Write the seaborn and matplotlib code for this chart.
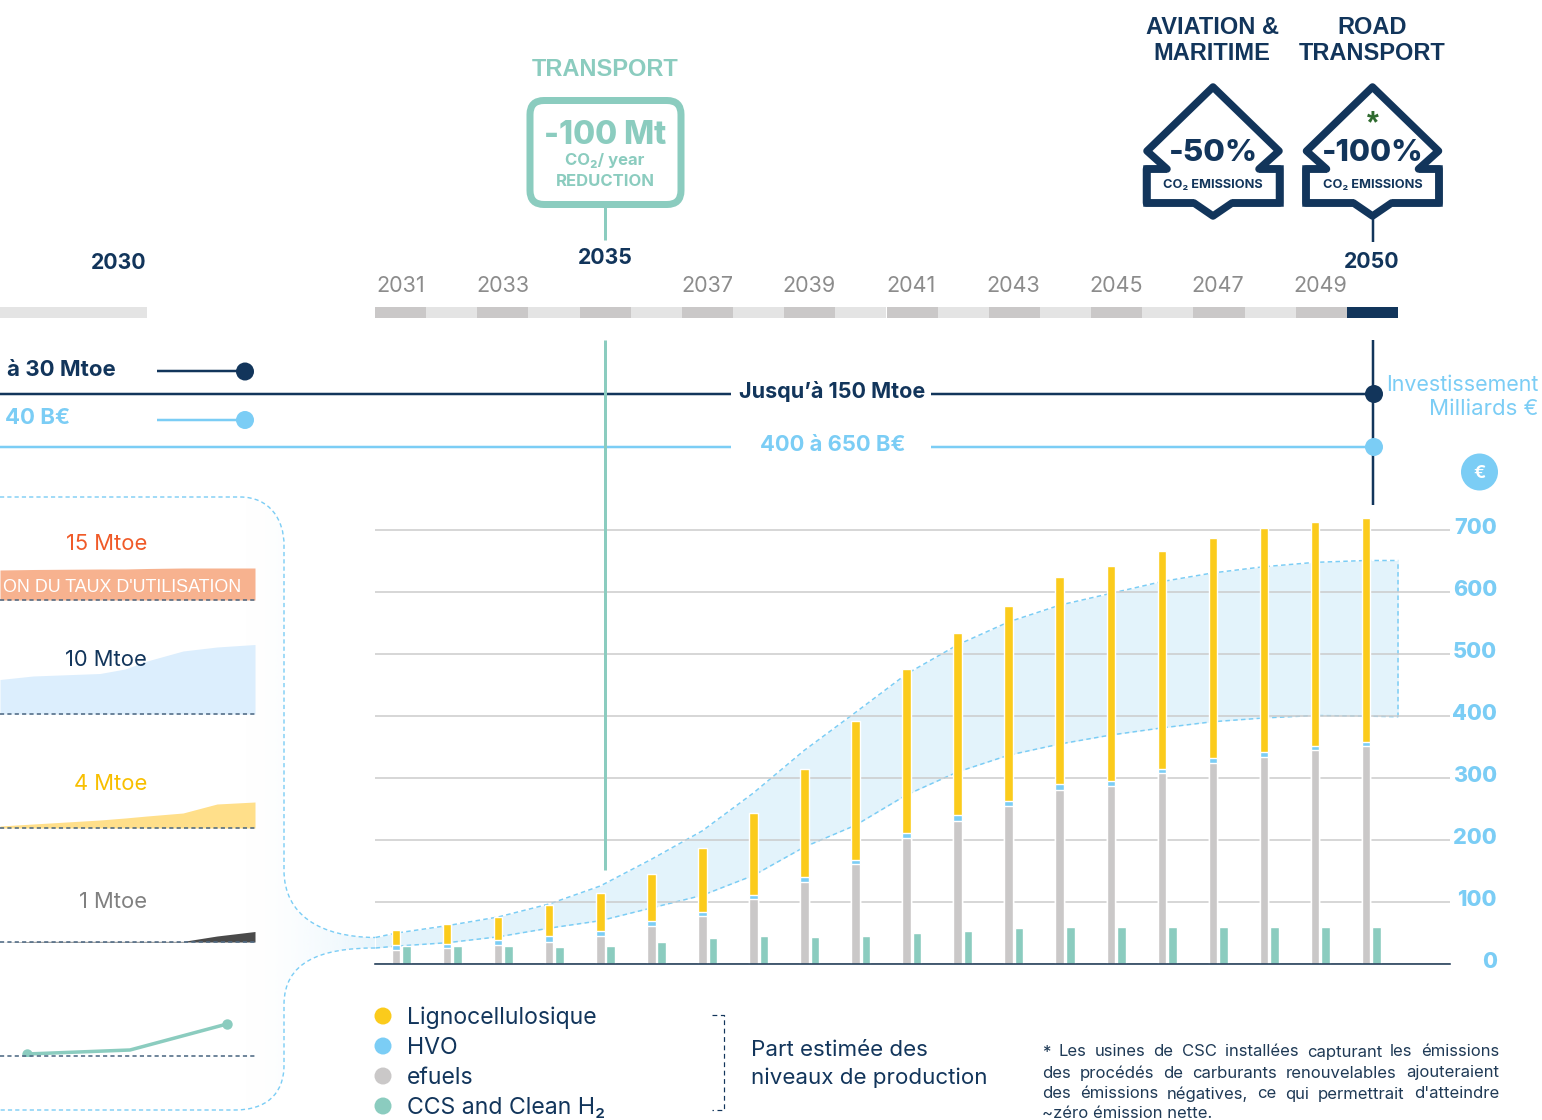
import numpy as np
import pandas as pd
import seaborn as sns
import matplotlib.pyplot as plt
from matplotlib.patches import Circle, FancyBboxPatch, PathPatch, Polygon, Rectangle
from matplotlib.path import Path
from matplotlib.transforms import ScaledTranslation

# values
years = list(range(2031, 2051))
efuels = [22, 24.5, 30, 35, 45, 60.5, 76.5, 104.5, 131, 160, 202, 230, 254, 280, 287, 307, 323, 333, 344, 351]
hvo = [8, 7.5, 8, 9, 7.5, 7.5, 6.5, 6, 8.5, 7, 8, 9.5, 8, 9.5, 7, 7, 8, 8, 7, 6]
ligno = [24, 32, 36.5, 50, 61.5, 77, 103, 132.5, 173.5, 224, 265, 293.5, 314, 333.5, 346.5, 351, 356, 361, 361, 361.5]
ccs = [28, 28, 28, 26, 28, 34, 41, 45, 42, 45, 50, 53, 57, 59, 59, 59, 59, 59, 59, 59]

# the band starts before 2031 and stops after 2050, positions in years
band_years = [2030.6, 2031, 2032, 2033, 2034, 2035, 2036, 2037, 2038, 2039, 2040, 2041, 2042, 2043, 2044,
              2045, 2046, 2047, 2048, 2049, 2050, 2050.63]
band_high = [42, 49, 61, 75, 96, 125, 168, 214, 275, 344, 405, 467, 514, 551, 578, 597, 616, 630, 640, 647, 650, 650]
band_low = [25, 28, 33.5, 43, 57, 69, 89.5, 110, 142, 188, 223, 272, 309, 336, 354, 368.5, 380, 390, 396, 400, 399, 398]

y_ticks = [0, 100, 200, 300, 400, 500, 600, 700]
timeline_labels = [2031, 2033, 2037, 2039, 2041, 2043, 2045, 2047, 2049]

# left panel, position along the panel and height of each small series
spark_x = [0, 33, 100, 125, 147, 183, 217, 255]
spark_15 = [30, 30.5, 31, 31, 31.5, 32, 32, 32]
spark_10 = [34.5, 38, 40.5, 45, 53, 63, 67, 69.5]
spark_4 = [2, 4, 8, 10, 12, 15, 24, 26]
spark_1 = [0, 0.6, 0.6, 0.6, 0.6, 0.6, 6, 10.5]
spark_ccs_x = [27, 130, 227]
spark_ccs = [2, 6, 32]

legend_names = ['Lignocellulosique', 'HVO', 'efuels', 'CCS and Clean H₂']
footnote = ['* Les usines de CSC installées capturant les émissions',
            'des procédés de carburants renouvelables ajouteraient',
            'des émissions négatives, ce qui permettrait d\'atteindre']

NAVY = '#12355B'
SKY = '#7BCDF5'
TEAL = '#8BCCBF'
YELLOW = '#FBCB1C'
GREY = '#CAC8C8'
BAND_LS = (0, (3, 2.2))

sns.set_theme(style='white')
plt.rcParams['font.family'] = ['Inter', 'DejaVu Sans']

W, H = 1542, 1120
fig = plt.figure(figsize=(W / 100, H / 100), dpi=100)
PX = 0.72


def pixel_axes(left, top, right, bottom, zorder):
    a = fig.add_axes([left / W, 1 - bottom / H, (right - left) / W, (bottom - top) / H], zorder=zorder)
    a.patch.set_alpha(0)
    return a


# background layer: funnel that links the left panel to the band
bg = pixel_axes(0, 0, W, H, 0)
M, L, C = Path.MOVETO, Path.LINETO, Path.CURVE4
top_v = [(0, 497), (240, 497), (270, 497), (284, 520), (284, 545), (284, 870), (284, 915), (320, 937), (375, 937.5)]
top_c = [M, L, C, C, C, L, C, C, C]
low_v = [(375, 948), (320, 948), (284, 962), (284, 1005), (284, 1065), (284, 1095), (265, 1110), (235, 1110), (0, 1110)]
low_c = [M, C, C, C, L, C, C, C, L]
grad = np.zeros((2, 256, 4))
grad[..., :3] = np.array([0xE8, 0xF5, 0xFC]) / 255
grad[..., 3] = np.linspace(0, 1, 256) ** 1.8
im = bg.imshow(grad, extent=(240, 375, 1120, 490), aspect='auto', zorder=1)
bg.set_xlim(0, W)
bg.set_ylim(H, 0)
bg.axis('off')
im.set_clip_path(PathPatch(Path(top_v + low_v, top_c + [L] + low_c[1:]), transform=bg.transData))
for v, c in [(top_v, top_c), (low_v, low_c)]:
    bg.add_patch(PathPatch(Path(v, c), fill=False, ec=SKY, lw=1.4 * PX, ls=BAND_LS, zorder=2))

# main chart
Y_PX = 0.62
ax = pixel_axes(375, 490, 1450, 963.5, 1)
totals = np.array(efuels) + np.array(hvo) + np.array(ligno)
labels = [str(y) for y in years]
layers = [(totals, YELLOW), (np.array(efuels) + np.array(hvo), SKY), (np.array(efuels), GREY)]
for i, (tops, colour) in enumerate(layers):
    df = pd.DataFrame({
        'year': labels * 2,
        'kind': ['stack'] * 20 + ['ccs'] * 20,
        'value': list(tops) + (ccs if i == 0 else [0] * 20),
    })
    sns.barplot(data=df, x='year', y='value', hue='kind', hue_order=['stack', 'ccs'],
                palette={'stack': colour, 'ccs': TEAL}, width=0.41, gap=0.18,
                saturation=1, legend=False, errorbar=None, ax=ax)

band_x = np.array(band_years) - 2031 - 0.103
ax.fill_between(band_x, band_low, band_high, color='#E3F3FB', lw=0, zorder=0.3)
sns.lineplot(x=band_x, y=band_high, color=SKY, lw=1.5 * PX, ls=BAND_LS, zorder=0.4, ax=ax)
sns.lineplot(x=band_x, y=band_low, color=SKY, lw=1.5 * PX, ls=BAND_LS, zorder=0.4, ax=ax)
ax.plot([band_x[-1], band_x[-1]], [band_low[-1], band_high[-1]], color=SKY, lw=1.5 * PX, ls=BAND_LS, zorder=0.4)

ax.set_xlim(-0.514, 20.54)
ax.set_ylim(0, 473.5 / Y_PX)
ax.set_xlabel('')
ax.set_ylabel('')
ax.set_xticks([])
ax.set_yticks(y_ticks)
ax.grid(axis='y', color='#CBCBCB', lw=1.5 * PX, zorder=0.5)
ax.set_axisbelow(True)
ax.yaxis.tick_right()
ax.tick_params(axis='y', length=0, pad=47 * PX, labelright=True, labelleft=False)
for s in ['top', 'left', 'right']:
    ax.spines[s].set_visible(False)
ax.spines['bottom'].set_color('#1F3A56')
ax.spines['bottom'].set_linewidth(1.6 * PX)
shift = ScaledTranslation(0, 3 / 100, fig.dpi_scale_trans)
for lab in ax.get_yticklabels():
    lab.set_ha('right')
    lab.set_color(SKY)
    lab.set_fontweight('heavy')
    lab.set_fontsize(15.5)
    lab.set_transform(lab.get_transform() + shift)

# top layer: everything around the chart, in pixels
top = pixel_axes(0, 0, W, H, 5)
top.set_xlim(0, W)
top.set_ylim(H, 0)
top.axis('off')


def txt(x, y, s, size, color, weight='normal', ha='center', family=None, **kw):
    fam = family if family else ['Inter', 'DejaVu Sans']
    return top.text(x, y, s, fontsize=size, color=color, fontweight=weight, ha=ha, va='center', family=fam, **kw)


def hline(x0, x1, y, color, w=2.5):
    top.plot([x0, x1], [y, y], color=color, lw=w * PX, solid_capstyle='butt')


def dot(x, y, r, color, z=6):
    top.add_patch(Circle((x, y), r, color=color, lw=0, zorder=z))


LIB = ['Liberation Sans', 'DejaVu Sans']

# timeline strip
for i, y in enumerate(years):
    c = NAVY if y == 2050 else (GREY if i % 2 == 0 else '#E4E4E4')
    top.add_patch(Rectangle((375 + i * 51.15, 307), 51.15, 11, color=c, lw=0))
top.add_patch(Rectangle((0, 307), 147, 11, color='#E4E4E4', lw=0))
for y in timeline_labels:
    txt(401 + (y - 2031) * 51.05, 286, str(y), 15.5, '#8C8C8C')
txt(119, 263, '2030', 15.3, NAVY, 'bold')
txt(605.5, 258, '2035', 15.3, NAVY, 'bold')
txt(1372, 262, '2050', 15.3, NAVY, 'bold')

# transport box
txt(605, 70, 'TRANSPORT', 17, TEAL, 'bold', family=LIB)
top.add_patch(FancyBboxPatch((530, 100.5), 151, 104, boxstyle='round,pad=0,rounding_size=14',
                             fc='white', ec=TEAL, lw=7 * PX))
top.plot([605, 605], [207, 240], color=TEAL, lw=3 * PX, solid_capstyle='butt')
txt(605.5, 136, '-100 Mt', 23, TEAL, 'heavy')
txt(605, 161, 'CO₂/ year', 12, TEAL, 'bold')
txt(605, 182, 'REDUCTION', 12, TEAL, 'bold')
top.plot([605, 605], [340, 870], color=TEAL, lw=3 * PX, solid_capstyle='butt', zorder=3)


def shield(cx):
    pts = [(-66.5, 169), (-46, 169), (-66, 151), (0, 87), (66, 151), (46, 169), (66.5, 169), (66.5, 203),
           (19, 203), (0, 216), (-19, 203), (-66.5, 203)]
    pts = [(cx + a, b) for a, b in pts]
    top.add_patch(Polygon(pts, closed=True, fc='white', ec=NAVY, lw=7.5 * PX, joinstyle='round'))
    for part in ([pts[1], pts[0], pts[11], pts[10]], [pts[5], pts[6], pts[7], pts[8]]):
        top.plot(*zip(*part), color=NAVY, lw=7.5 * PX, solid_joinstyle='miter', solid_capstyle='butt')
    txt(cx, 185, 'CO₂ EMISSIONS', 9.2, NAVY, 'bold')


shield(1213)
shield(1372.5)
txt(1213, 153, '-50%', 22.5, NAVY, 'heavy')
txt(1372.5, 153, '-100%', 22, NAVY, 'heavy')
txt(1372.5, 124, '*', 22, '#2F6B2F', 'bold', family=LIB)
for cx, a, b in [(1212, 'AVIATION &', 'MARITIME'), (1372.5, 'ROAD', 'TRANSPORT')]:
    txt(cx, 28, a, 17, NAVY, 'bold', family=LIB)
    txt(cx, 54, b, 17, NAVY, 'bold', family=LIB)
top.plot([1372.5, 1372.5], [219, 242], color=NAVY, lw=2.5 * PX, solid_capstyle='butt')

# investment lines
top.plot([1372.5, 1372.5], [340, 505], color=NAVY, lw=2.5 * PX, solid_capstyle='butt')
txt(7, 370, 'à 30 Mtoe', 16, NAVY, 'bold', ha='left')
hline(157, 245, 371, NAVY)
dot(245, 371.5, 9, NAVY)
hline(0, 731, 394, NAVY)
hline(931, 1374, 394, NAVY)
dot(1374, 394, 9, NAVY)
txt(832, 392, 'Jusqu’à 150 Mtoe', 15.5, NAVY, 'bold')
txt(5, 418, '40 B€', 16, SKY, 'bold', ha='left')
hline(157, 245, 420, SKY)
dot(245, 420, 9, SKY)
hline(0, 731, 447, SKY)
hline(931, 1374, 447, SKY)
dot(1374, 447, 9, SKY)
txt(832.5, 445, '400 à 650 B€', 15.8, SKY, 'bold')
txt(1538, 385, 'Investissement', 15.4, SKY, ha='right')
txt(1538, 409, 'Milliards €', 16, SKY, ha='right')
dot(1479.5, 472, 18.5, SKY)
txt(1479.5, 473, '€', 13, 'white', 'bold', zorder=7)


# left panel series, one small axes for each
def spark_axes(bottom, height):
    a = pixel_axes(0, bottom - height, 255, bottom, 4)
    a.set_xlim(0, 255)
    a.set_ylim(0, height)
    a.axis('off')
    return a


def spark_area(values, colour, bottom, height):
    a = spark_axes(bottom, height)
    a.fill_between(spark_x, 0, values, color=colour, lw=0)
    top.plot([0, 255], [bottom, bottom], color='#4F6A84', lw=1.6 * PX, ls=(0, (2.6, 2)), zorder=8)


spark_area(spark_15, '#F7B28F', 600, 40)
spark_area(spark_10, '#DCEEFD', 714, 80)
spark_area(spark_4, '#FFDF8A', 828, 40)
spark_area(spark_1, '#4A4A4A', 942, 20)
txt(147, 543.5, '15 Mtoe', 15.8, '#F05A28', ha='right')
txt(147, 660.5, '10 Mtoe', 15.8, NAVY, ha='right', zorder=9)
txt(147, 783.5, '4 Mtoe', 15.8, '#F8BF00', ha='right')
txt(147, 902.5, '1 Mtoe', 15.8, '#808080', ha='right')
txt(3, 587, 'ON DU TAUX D\'UTILISATION', 12.9, 'white', ha='left', zorder=9, family=LIB)

a = spark_axes(1056, 50)
sns.lineplot(x=spark_ccs_x, y=spark_ccs, color=TEAL, lw=3.5 * PX, marker='o', markersize=7.5,
             markeredgewidth=0, markevery=[0, 2], ax=a)
a.set_xlim(0, 255)
a.set_ylim(0, 50)
a.axis('off')
top.plot([0, 255], [1056, 1056], color='#4F6A84', lw=1.6 * PX, ls=(0, (2.6, 2)), zorder=3)

# legend
for i, (name, c) in enumerate(zip(legend_names, [YELLOW, SKY, GREY, TEAL])):
    dot(383, 1016 + i * 30, 8.5, c)
    txt(407, 1018 + i * 30, name, 16.6, NAVY, ha='left')
top.plot([712, 724, 724, 712], [1015, 1015, 1110, 1110], color=NAVY, lw=1.2 * PX, ls=(0, (4, 3)))
txt(751, 1050, 'Part estimée des', 16.1, NAVY, ha='left')
txt(751, 1078, 'niveaux de production', 16.1, NAVY, ha='left')

# footnote, justified between x=1042 and x=1499
fig.canvas.draw()
renderer = fig.canvas.get_renderer()
for i, line in enumerate(footnote):
    words = line.split(' ')
    items = [txt(1042, 1052 + i * 21, w, 12, '#1F3A56', ha='left') for w in words]
    widths = [t.get_window_extent(renderer).width for t in items]
    space = (1499 - 1042 - sum(widths)) / (len(words) - 1)
    x = 1042
    for t, w in zip(items, widths):
        t.set_x(x)
        x += w + space
txt(1042, 1114, '~zéro émission nette.', 12, '#1F3A56', ha='left')

fig.savefig('out.png', dpi=100)
